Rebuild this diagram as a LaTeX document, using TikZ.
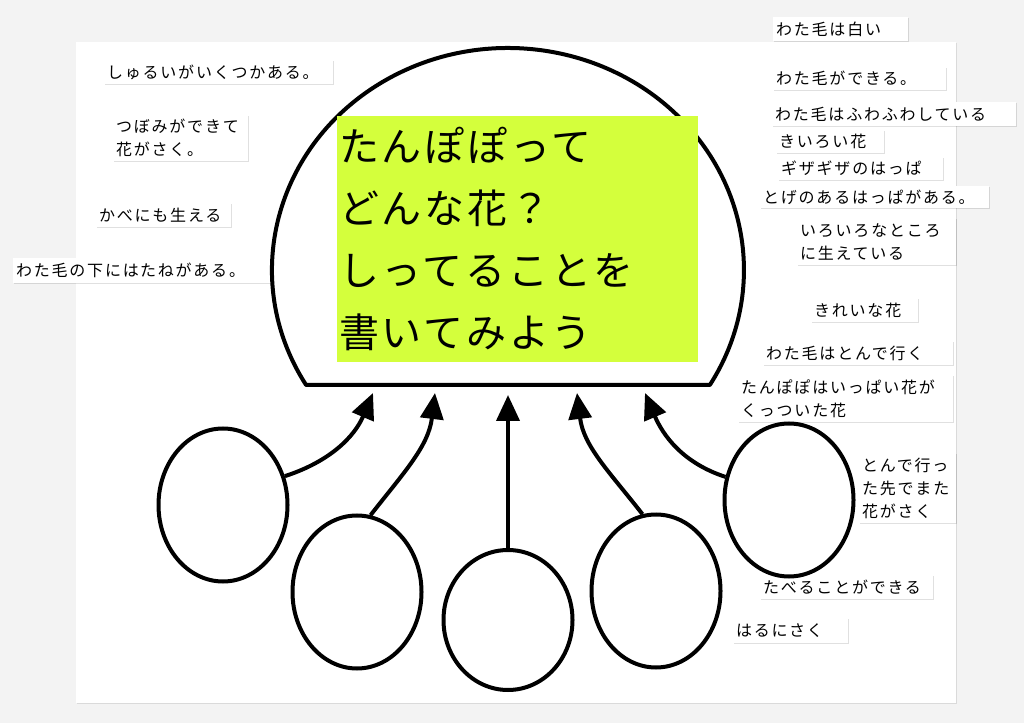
\documentclass[tikz,border=0pt]{standalone}
\usepackage{fontspec}
\setmainfont{Noto Sans CJK JP}
\newfontfamily\notefont[LetterSpace=11]{Noto Sans CJK JP}
\newfontfamily\titlefont[LetterSpace=7]{Noto Sans CJK JP}
\usetikzlibrary{arrows.meta,shapes.geometric,shadows}
\setlength{\parindent}{0pt}
\definecolor{pagegray}{RGB}{243,243,243}
\definecolor{titlegreen}{RGB}{212,255,60}
\tikzset{
  note/.style={fill=white,anchor=north west,inner xsep=3pt,inner ysep=1pt,align=left,
    drop shadow={shadow xshift=0.8pt,shadow yshift=-0.8pt,opacity=0.12,fill=black},
    font=\notefont\fontsize{16}{23}\selectfont},
  bubble/.style={draw,ellipse,line width=4pt,fill=white,minimum width=129pt,minimum height=153pt},
  link/.style={line width=4pt,-{Triangle[length=26pt,width=23pt]}}
}
\begin{document}
\begin{tikzpicture}[x=1pt,y=1pt]
\useasboundingbox (0,0) rectangle (1024,723);
\fill [pagegray] (0,0) rectangle (1024,723);
\fill [white,drop shadow={shadow xshift=1pt,shadow yshift=-1pt,opacity=0.1,fill=black}] (76,20) rectangle (956,681);

% left notes
\node [note,text width=223pt,minimum height=24pt] (n1) at (104,663) {しゅるいがいくつかある。};
\node [note,text width=129pt,minimum height=46pt] (n2) at (113,608) {つぼみができて\\花がさく。};
\node [note,text width=129pt,minimum height=24pt] (n3) at (96,520) {かべにも生える};
\node [note,text width=258pt,minimum height=25pt] (n4) at (13,465) {わた毛の下にはたねがある。};

% right notes
\node [note,text width=129pt,minimum height=24pt] (n5) at (773,706) {わた毛は白い};
\node [note,text width=167pt,minimum height=23pt] (n6) at (773,656) {わた毛ができる。};
\node [note,text width=238pt,minimum height=24pt] (n7) at (772,621) {わた毛はふわふわしている};
\node [note,text width=102pt,minimum height=23pt] (n8) at (776,593) {きいろい花};
\node [note,text width=159pt,minimum height=23pt] (n9) at (778,566) {ギザギザのはっぱ};
\node [note,text width=223pt,minimum height=22pt] (n10) at (760,537) {とげのあるはっぱがある。};
\node [note,text width=153pt,minimum height=47pt] (n11) at (797,505) {いろいろなところ\\に生えている};
\node [note,text width=101pt,minimum height=24pt] (n12) at (811,425) {きれいな花};
\node [note,text width=184pt,minimum height=24pt] (n13) at (763,382) {わた毛はとんで行く};
\node [note,text width=209pt,minimum height=47pt] (n14) at (738,348) {たんぽぽはいっぱい花が\\くっついた花};
\node [note,text width=91pt,minimum height=70pt] (n15) at (859,270) {とんで行っ\\た先でまた\\花がさく};
\node [note,text width=167pt,minimum height=24pt] (n16) at (760,148) {たべることができる};
\node [note,text width=109pt,minimum height=25pt] (n17) at (733,105) {はるにさく};

% dome and question
\draw [line width=4pt,fill=white,line join=round] (306.1,338) arc [start angle=211.2,end angle=-31.2,x radius=236pt,y radius=222pt] -- cycle;
\node [fill=titlegreen,anchor=north west,minimum width=361pt,minimum height=246pt,inner xsep=2pt,
  text width=357pt,align=left,font=\titlefont\fontsize{40}{62}\selectfont] (title) at (337,607)
  {たんぽぽって\\どんな花？\\しってることを\\書いてみよう};

% bubbles
\node [bubble] (c1) at (223,218) {};
\node [bubble] (c2) at (357,131) {};
\node [bubble,minimum height=140pt] (c3) at (508,103) {};
\node [bubble] (c4) at (656,132) {};
\node [bubble] (c5) at (789,223) {};

\coordinate (t1) at (373,330);
\coordinate (t2) at (435,330);
\coordinate (t3) at (508,328);
\coordinate (t4) at (577,330);
\coordinate (t5) at (645,330);

\draw [link] (c1.25) to [out=18,in=247] (t1);
\draw [link] (c2.80) to [out=52,in=263] (t2);
\draw [link] (c3.north) -- (t3);
\draw [link] (c4.100) to [out=128,in=277] (t4);
\draw [link] (c5.160) to [out=162,in=293] (t5);
\end{tikzpicture}
\end{document}
